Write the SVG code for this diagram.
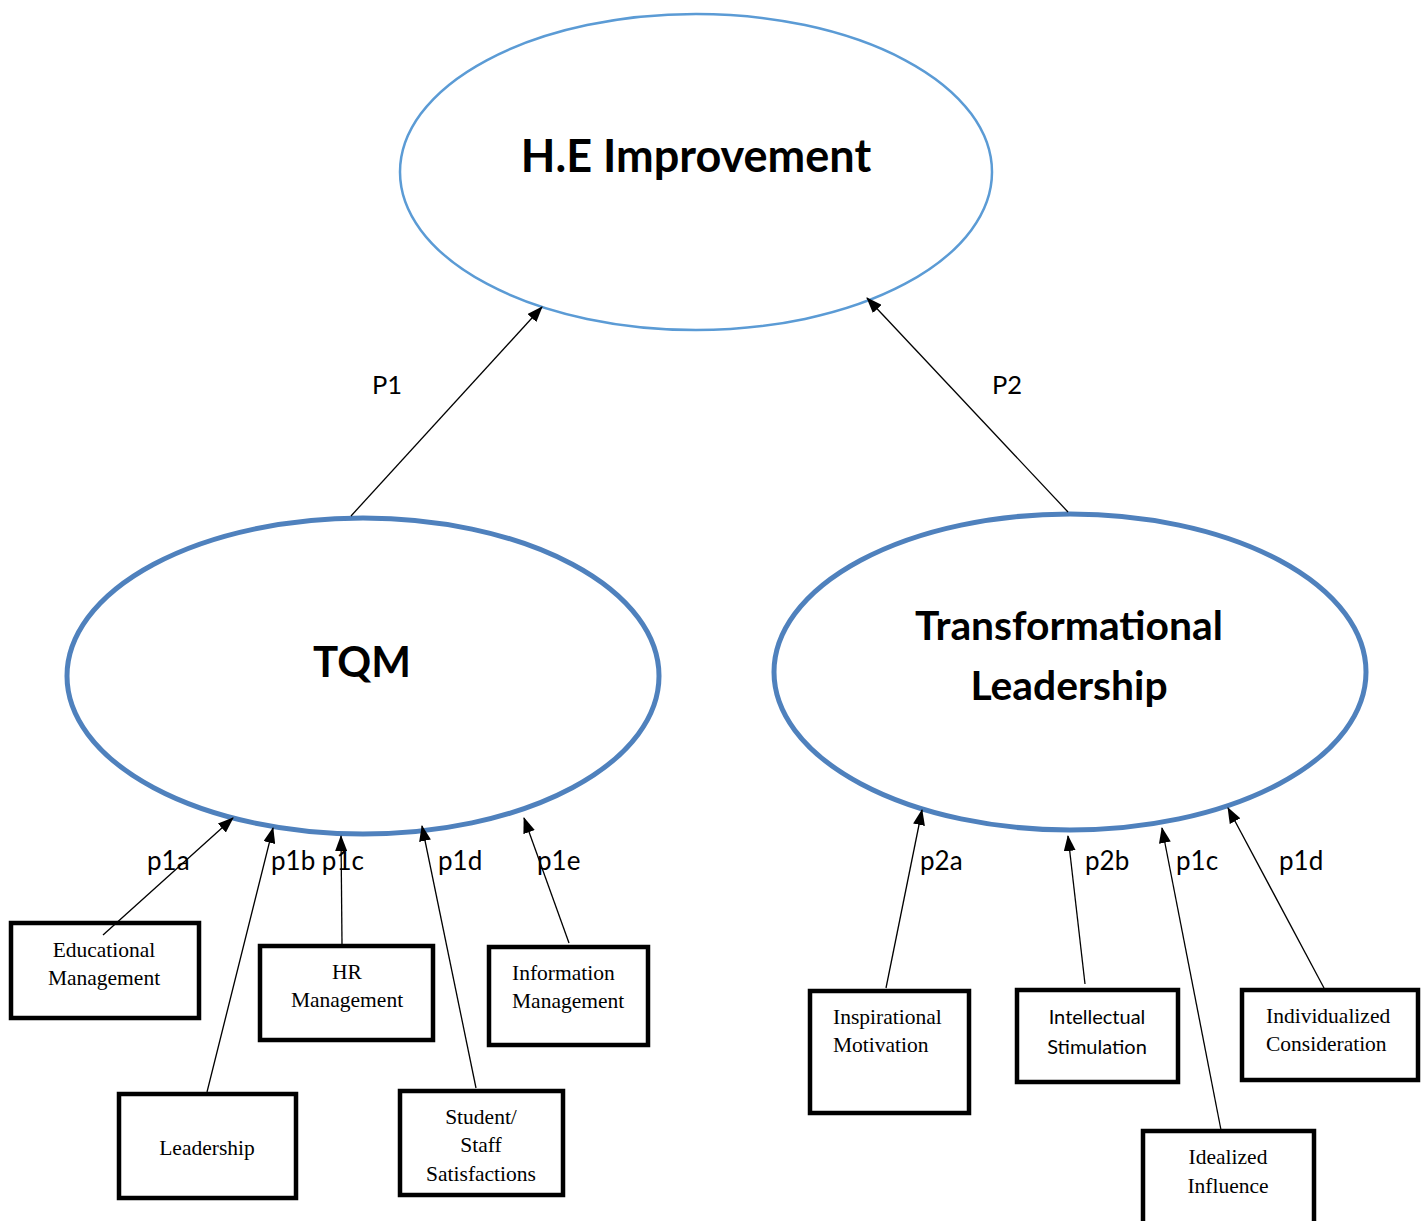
<svg xmlns="http://www.w3.org/2000/svg" width="1423" height="1221" viewBox="0 0 1423 1221">
  <defs>
    <marker id="arrow" markerUnits="userSpaceOnUse" markerWidth="16" markerHeight="12" viewBox="0 0 16 12" refX="15" refY="6" orient="auto">
      <path d="M0,0 L16,6 L0,12 Z" fill="#000"/>
    </marker>
    <style>
      .head { font-family: Lato, "Open Sans", "Liberation Sans", sans-serif; font-weight: bold; font-size: 40px; fill: #000; }
      .lbl { font-family: Lato, "Open Sans", "Liberation Sans", sans-serif; font-size: 26px; fill: #000; }
      .lblP { font-family: Lato, "Open Sans", "Liberation Sans", sans-serif; font-size: 25.5px; fill: #000; }
      .serif { font-family: "Liberation Serif", "Times New Roman", serif; font-size: 21.5px; fill: #000; }
      .sans { font-family: Lato, "Open Sans", "Liberation Sans", sans-serif; font-size: 20px; fill: #000; }
      .box { fill: #fff; stroke: #000; stroke-width: 4.5; }
      .conn { stroke: #000; stroke-width: 1.3; fill: none; marker-end: url(#arrow); }
    </style>
  </defs>
  <rect width="1423" height="1221" fill="#fff"/>

  <!-- main constructs -->
  <g id="he-improvement">
    <ellipse cx="696" cy="172" rx="296" ry="158" fill="none" stroke="#5B9BD5" stroke-width="2.5"/>
    <text class="head" x="696" y="172" text-anchor="middle" style="font-size:45px">H.E Improvement</text>
  </g>
  <g id="tqm">
    <ellipse cx="363" cy="676" rx="296" ry="158" fill="none" stroke="#4F81BD" stroke-width="5"/>
    <text class="head" x="362" y="677" text-anchor="middle" style="font-size:42px">TQM</text>
  </g>
  <g id="transformational-leadership">
    <ellipse cx="1070" cy="672" rx="296" ry="158" fill="none" stroke="#4F81BD" stroke-width="5"/>
    <text class="head" x="1069" y="640" text-anchor="middle" style="font-size:40.8px">Transformational</text>
    <text class="head" x="1069" y="700" text-anchor="middle" style="font-size:40.8px">Leadership</text>
  </g>

  <!-- TQM dimensions -->
  <g id="educational-management">
    <rect class="box" x="11" y="923" width="188" height="95"/>
    <text class="serif" x="104" y="957" text-anchor="middle">Educational</text>
    <text class="serif" x="104" y="985" text-anchor="middle">Management</text>
  </g>
  <g id="leadership">
    <rect class="box" x="119" y="1094" width="177" height="104"/>
    <text class="serif" x="207" y="1155" text-anchor="middle">Leadership</text>
  </g>
  <g id="hr-management">
    <rect class="box" x="260" y="946" width="173" height="94"/>
    <text class="serif" x="347" y="979" text-anchor="middle">HR</text>
    <text class="serif" x="347" y="1007" text-anchor="middle">Management</text>
  </g>
  <g id="student-staff-satisfactions">
    <rect class="box" x="400" y="1091" width="163" height="104"/>
    <text class="serif" x="481" y="1124" text-anchor="middle">Student/</text>
    <text class="serif" x="481" y="1152" text-anchor="middle">Staff</text>
    <text class="serif" x="481" y="1181" text-anchor="middle">Satisfactions</text>
  </g>
  <g id="information-management">
    <rect class="box" x="489" y="947" width="159" height="98"/>
    <text class="serif" x="512" y="980">Information</text>
    <text class="serif" x="512" y="1008">Management</text>
  </g>

  <!-- Transformational leadership dimensions -->
  <g id="inspirational-motivation">
    <rect class="box" x="810" y="991" width="159" height="122"/>
    <text class="serif" x="833" y="1024">Inspirational</text>
    <text class="serif" x="833" y="1052">Motivation</text>
  </g>
  <g id="intellectual-stimulation">
    <rect class="box" x="1017" y="990" width="161" height="92"/>
    <text class="sans" x="1097" y="1024" text-anchor="middle">Intellectual</text>
    <text class="sans" x="1097" y="1054" text-anchor="middle">Stimulation</text>
  </g>
  <g id="idealized-influence">
    <rect class="box" x="1143" y="1131" width="171" height="100"/>
    <text class="serif" x="1228" y="1164" text-anchor="middle">Idealized</text>
    <text class="serif" x="1228" y="1193" text-anchor="middle">Influence</text>
  </g>
  <g id="individualized-consideration">
    <rect class="box" x="1242" y="990" width="176" height="90"/>
    <text class="serif" x="1266" y="1023">Individualized</text>
    <text class="serif" x="1266" y="1051">Consideration</text>
  </g>

  <!-- connectors -->
  <g id="connectors">
    <line class="conn" x1="351" y1="516" x2="542" y2="307"/>
    <line class="conn" x1="1068" y1="512" x2="867" y2="298"/>

    <line class="conn" x1="103" y1="935" x2="233" y2="818"/>
    <line class="conn" x1="207" y1="1092" x2="273" y2="828"/>
    <line class="conn" x1="342" y1="944" x2="341" y2="836"/>
    <line class="conn" x1="476" y1="1088" x2="422" y2="826"/>
    <line class="conn" x1="569" y1="943" x2="524" y2="818"/>

    <line class="conn" x1="886" y1="988" x2="922" y2="810"/>
    <line class="conn" x1="1085" y1="984" x2="1068" y2="836"/>
    <line class="conn" x1="1221" y1="1130" x2="1162" y2="828"/>
    <line class="conn" x1="1324" y1="988" x2="1228" y2="808"/>

    <text class="lblP" x="372" y="394">P1</text>
    <text class="lblP" x="992" y="394">P2</text>

    <text class="lbl" x="147" y="870">p1a</text>
    <text class="lbl" x="271" y="870">p1b p1c</text>
    <text class="lbl" x="438" y="870">p1d</text>
    <text class="lbl" x="537" y="870">p1e</text>

    <text class="lbl" x="920" y="870">p2a</text>
    <text class="lbl" x="1085" y="870">p2b</text>
    <text class="lbl" x="1176" y="870">p1c</text>
    <text class="lbl" x="1279" y="870">p1d</text>
  </g>
</svg>
